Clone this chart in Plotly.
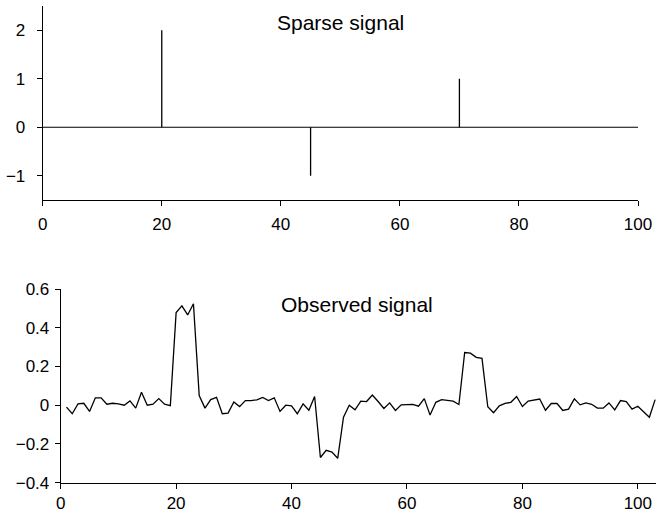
import plotly.graph_objects as go

# ---- Data ----
sparse_len = 101                      # samples 0..100
spike_pos = [20, 45, 70]
spike_val = [2, -1, 1]

observed = [
    -0.010, -0.044, 0.007, 0.010, -0.032, 0.038, 0.038, 0.005, 0.010, 0.007,
    0.000, 0.022, -0.015, 0.067, 0.000, 0.005, 0.034, 0.005, -0.002, 0.478,
    0.513, 0.466, 0.524, 0.050, -0.015, 0.029, 0.041, -0.044, -0.041, 0.017,
    -0.007, 0.024, 0.024, 0.028, 0.040, 0.024, 0.038, -0.032, 0.000, -0.003,
    -0.044, 0.007, -0.026, 0.045, -0.270, -0.233, -0.242, -0.274, -0.062, 0.000,
    -0.024, 0.021, 0.019, 0.053, 0.019, -0.017, 0.012, -0.027, 0.002, 0.002,
    0.004, -0.005, 0.034, -0.051, 0.015, 0.029, 0.026, 0.021, 0.004, 0.272,
    0.269, 0.247, 0.242, -0.008, -0.039, -0.003, 0.009, 0.015, 0.045, -0.007,
    0.021, 0.026, 0.032, -0.026, 0.009, 0.009, -0.027, -0.020, 0.033, 0.002,
    0.012, 0.005, -0.015, -0.015, 0.012, -0.024, 0.024, 0.019, -0.020, -0.005,
    -0.034, -0.062, 0.029,
]
observed_x = list(range(1, len(observed) + 1))

top_ticks_y = [-1, 0, 1, 2]
bottom_ticks_y = [-0.4, -0.2, 0, 0.2, 0.4, 0.6]
x_ticks = [0, 20, 40, 60, 80, 100]

# ---- Build stem geometry from data ----
stem_x, stem_y = [], []
for p, v in zip(spike_pos, spike_val):
    stem_x += [p, p, None]
    stem_y += [0, v, None]

FONT = "Liberation Sans, Arial, Helvetica, sans-serif"
W, H = 656, 514

fig = go.Figure()
# baseline of the stem plot
fig.add_trace(go.Scatter(x=[0, sparse_len - 1], y=[0, 0], mode="lines",
                         line=dict(color="black", width=1),
                         xaxis="x", yaxis="y", hoverinfo="skip"))
fig.add_trace(go.Scatter(x=stem_x, y=stem_y, mode="lines",
                         line=dict(color="black", width=1.3),
                         xaxis="x", yaxis="y"))
fig.add_trace(go.Scatter(x=observed_x, y=observed, mode="lines",
                         line=dict(color="black", width=1.3),
                         xaxis="x2", yaxis="y2"))

axis_common = dict(showline=True, linecolor="black", linewidth=1,
                   ticks="outside", ticklen=5, tickwidth=1, tickcolor="black",
                   showgrid=False, zeroline=False, automargin=False,
                   tickfont=dict(family=FONT, size=17, color="black"))

fig.update_layout(
    template="none",
    width=W, height=H,
    margin=dict(l=0, r=0, t=0, b=0, autoexpand=False),
    paper_bgcolor="white", plot_bgcolor="white",
    showlegend=False,
    xaxis=dict(domain=[42.7 / W, 638 / W], range=[0, 100],
               tickvals=x_ticks, anchor="y", ticklabelstandoff=4, **axis_common),
    yaxis=dict(domain=[1 - 200 / H, 1 - 6 / H], range=[-1.5, 2.5],
               tickvals=top_ticks_y, anchor="x", ticklabelstandoff=8, **axis_common),
    xaxis2=dict(domain=[60.7 / W, 1.0], range=[0, 103.15],
                tickvals=x_ticks, anchor="y2", ticklabelstandoff=0, **axis_common),
    yaxis2=dict(domain=[1 - 482.7 / H, 1 - 289 / H], range=[-0.4, 0.6],
                tickvals=bottom_ticks_y, anchor="x2", ticklabelstandoff=2, **axis_common),
    annotations=[
        dict(text="Sparse signal", x=50, y=2.17, xref="x", yref="y",
             showarrow=False, xanchor="center", yanchor="middle",
             font=dict(family=FONT, size=21, color="black")),
        dict(text="Observed signal", x=51.4, y=0.518, xref="x2", yref="y2",
             showarrow=False, xanchor="center", yanchor="middle",
             font=dict(family=FONT, size=21, color="black")),
    ],
)

fig.write_html("out.html")
